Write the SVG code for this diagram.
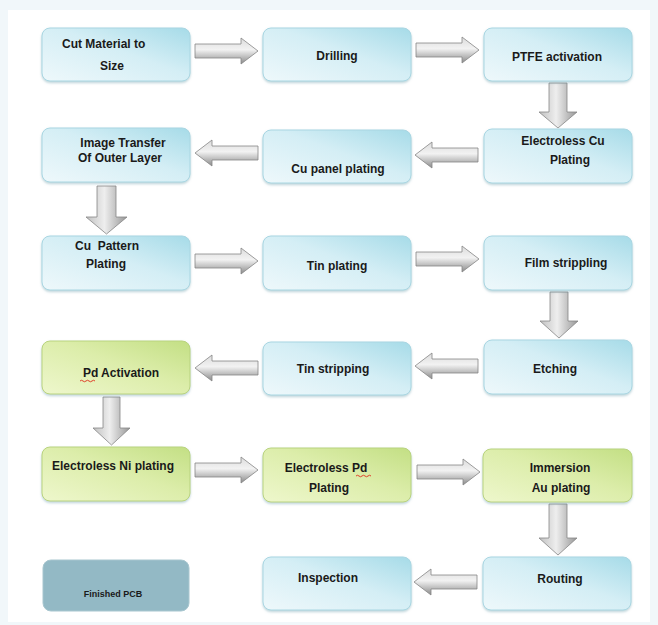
<svg xmlns="http://www.w3.org/2000/svg" width="658" height="625" viewBox="0 0 658 625">
<defs>
<linearGradient id="gb" x1="0" y1="1" x2="1" y2="0">
<stop offset="0" stop-color="#eef8fb"/><stop offset="0.55" stop-color="#d4eef5"/><stop offset="1" stop-color="#a6dbe8"/>
</linearGradient>
<linearGradient id="gg" x1="0" y1="1" x2="1" y2="0">
<stop offset="0" stop-color="#eef7cc"/><stop offset="0.55" stop-color="#dcedaa"/><stop offset="1" stop-color="#c3df84"/>
</linearGradient>
<linearGradient id="gh" x1="0" y1="0" x2="0" y2="1">
<stop offset="0" stop-color="#dcdcdc"/><stop offset="0.45" stop-color="#f2f2f2"/><stop offset="1" stop-color="#8a8a8a"/>
</linearGradient>
<linearGradient id="gv" x1="0" y1="0" x2="1" y2="0">
<stop offset="0" stop-color="#c0c0c0"/><stop offset="0.45" stop-color="#eeeeee"/><stop offset="1" stop-color="#969696"/>
</linearGradient>
<filter id="sh" x="-10%" y="-10%" width="120%" height="130%">
<feDropShadow dx="0" dy="1.5" stdDeviation="1.2" flood-color="#7aa8b4" flood-opacity="0.5"/>
</filter>
<path id="ar" d="M0,-7 H46 V-13 L63,0 L46,13 V7 H0 Z"/>
</defs>
<style>
.nb{fill:url(#gb);stroke:#a9d6e2;stroke-width:1;filter:url(#sh)}
.ng{fill:url(#gg);stroke:#b9d37e;stroke-width:1;filter:url(#sh)}
.nf{fill:#93b9c5;stroke:#a8c6cf;stroke-width:1}
.t{font-family:"Liberation Sans",Arial,sans-serif;font-weight:bold;font-size:12px;fill:#1a1a1a}
.c{text-anchor:middle}
.ah{fill:url(#gh);stroke:#858585;stroke-width:0.8}
.av{fill:url(#gv);stroke:#858585;stroke-width:0.8}
.sq{fill:none;stroke:#e0402a;stroke-width:1}
</style>
<rect width="658" height="625" fill="#f1f7fa"/>
<rect x="8" y="10" width="642" height="612" fill="#ffffff"/>

<g id="connectors">
<use href="#ar" class="ah" transform="translate(195,51)"/>
<use href="#ar" class="ah" transform="translate(416,50)"/>
<use href="#ar" class="ah" transform="translate(258,153) scale(-1,1)"/>
<use href="#ar" class="ah" transform="translate(478,155) scale(-1,1)"/>
<use href="#ar" class="ah" transform="translate(195,261)"/>
<use href="#ar" class="ah" transform="translate(416,259)"/>
<use href="#ar" class="ah" transform="translate(258,368) scale(-1,1)"/>
<use href="#ar" class="ah" transform="translate(478,366) scale(-1,1)"/>
<use href="#ar" class="ah" transform="translate(195,470)"/>
<use href="#ar" class="ah" transform="translate(417,472)"/>
<use href="#ar" class="ah" transform="translate(477,582) scale(-1,1)"/>
<path class="av" d="M549,83 H567 V112 H577 L558,128 L539,112 H549 Z"/>
<path class="av" d="M97,186 H116 V217 H127 L106.5,234 L86,217 H97 Z"/>
<path class="av" d="M550,292 H568 V321 H578 L559,338 L540,321 H550 Z"/>
<path class="av" d="M103,397 H120 V428 H130 L111.5,445 L93,428 H103 Z"/>
<path class="av" d="M549,504 H567 V538 H577 L558,555 L539,538 H549 Z"/>
</g>

<g id="n1"><rect class="nb" x="42" y="28" width="148" height="53" rx="8"/>
<text class="t" x="62" y="48">Cut Material to</text><text class="t" x="100" y="70">Size</text></g>
<g id="n2"><rect class="nb" x="263" y="28" width="148" height="53" rx="8"/>
<text class="t c" x="337" y="60">Drilling</text></g>
<g id="n3"><rect class="nb" x="484" y="28" width="148" height="53" rx="8"/>
<text class="t c" x="557" y="61">PTFE activation</text></g>

<g id="n4"><rect class="nb" x="484" y="129" width="148" height="54" rx="8"/>
<text class="t c" x="563" y="145">Electroless Cu</text><text class="t c" x="570" y="164">Plating</text></g>
<g id="n5"><rect class="nb" x="263" y="130" width="148" height="53" rx="8"/>
<text class="t c" x="338" y="173">Cu panel plating</text></g>
<g id="n6"><rect class="nb" x="42" y="128" width="148" height="54" rx="8"/>
<text class="t c" x="123" y="147">Image Transfer</text><text class="t c" x="120" y="162">Of Outer Layer</text></g>

<g id="n7"><rect class="nb" x="42" y="236" width="148" height="54" rx="8"/>
<text class="t c" x="107" y="250" xml:space="preserve">Cu  Pattern</text><text class="t c" x="106" y="268">Plating</text></g>
<g id="n8"><rect class="nb" x="263" y="236" width="148" height="54" rx="8"/>
<text class="t c" x="337" y="270">Tin plating</text></g>
<g id="n9"><rect class="nb" x="484" y="236" width="148" height="54" rx="8"/>
<text class="t c" x="566" y="267">Film strippling</text></g>

<g id="n10"><rect class="nb" x="484" y="340" width="148" height="54" rx="8"/>
<text class="t c" x="555" y="373">Etching</text></g>
<g id="n11"><rect class="nb" x="263" y="342" width="148" height="53" rx="8"/>
<text class="t c" x="333" y="373">Tin stripping</text></g>
<g id="n12"><rect class="ng" x="42" y="341" width="148" height="53" rx="8"/>
<text class="t c" x="121" y="377">Pd Activation</text>
<path class="sq" d="M80,381 q1.5,-1.5 3,0 t3,0 t3,0 t3,0 t3,0"/></g>

<g id="n13"><rect class="ng" x="42" y="447" width="148" height="54" rx="8"/>
<text class="t c" x="113" y="470">Electroless Ni plating</text></g>
<g id="n14"><rect class="ng" x="263" y="448" width="148" height="54" rx="8"/>
<text class="t c" x="326" y="472">Electroless Pd</text><text class="t c" x="329" y="492">Plating</text>
<path class="sq" d="M356,476 q1.5,-1.5 3,0 t3,0 t3,0 t3,0 t3,0"/></g>
<g id="n15"><rect class="ng" x="483" y="449" width="149" height="53" rx="8"/>
<text class="t c" x="560" y="472">Immersion</text><text class="t c" x="561" y="492">Au plating</text></g>

<g id="n16"><rect class="nb" x="483" y="557" width="148" height="53" rx="8"/>
<text class="t c" x="560" y="583">Routing</text></g>
<g id="n17"><rect class="nb" x="263" y="557" width="148" height="53" rx="8"/>
<text class="t c" x="328" y="582">Inspection</text></g>
<g id="n18"><rect class="nf" x="43" y="560" width="146" height="51" rx="8"/>
<text class="t c" x="113" y="597" style="font-size:9px">Finished PCB</text></g>
</svg>
